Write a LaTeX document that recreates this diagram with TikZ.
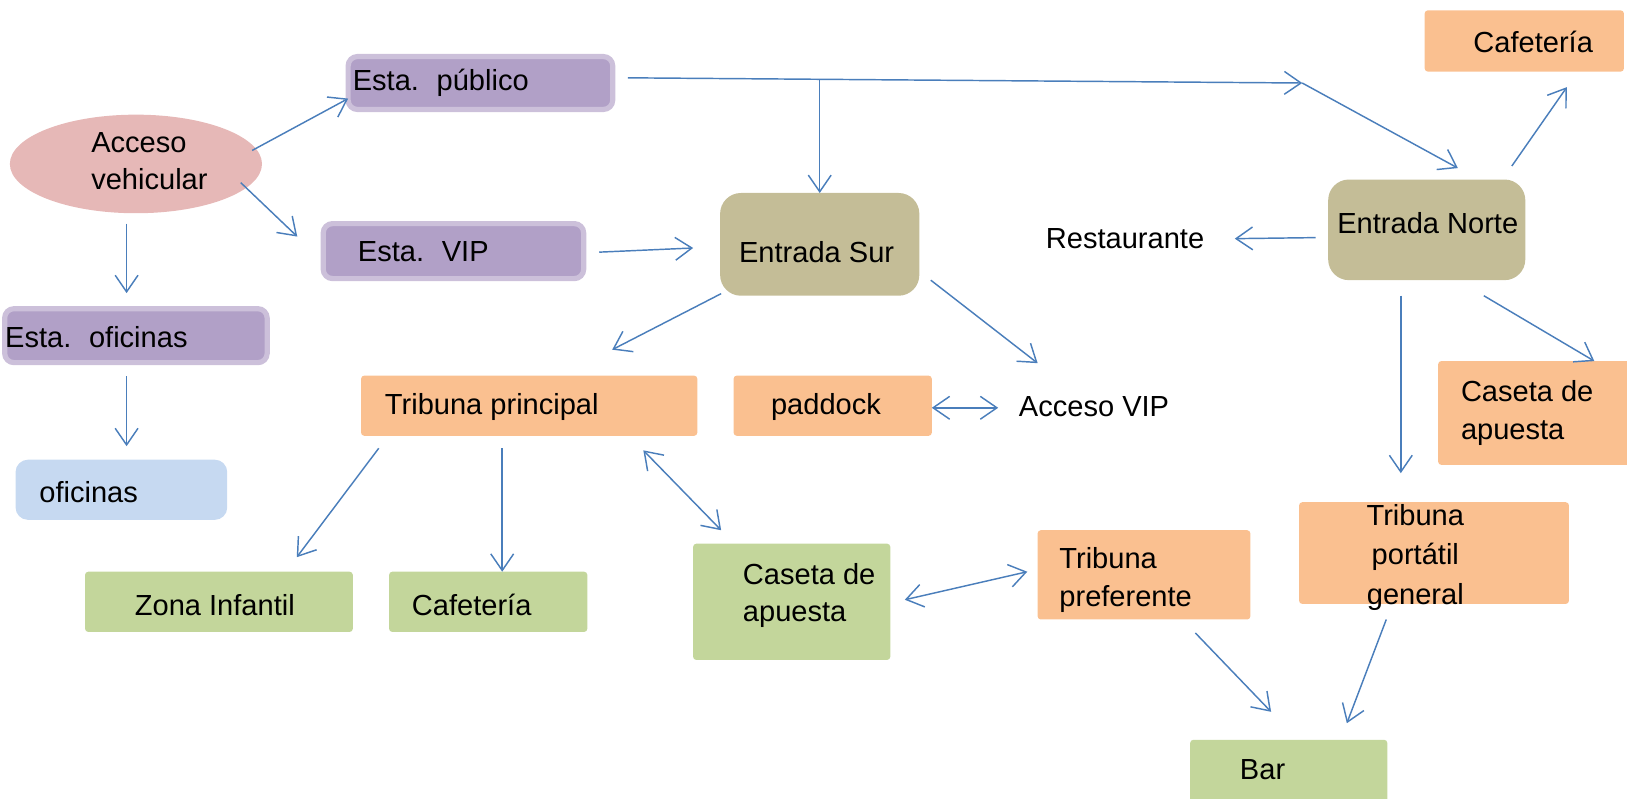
\documentclass[tikz,border=0pt]{standalone}
\usepackage{fontspec}
\setmainfont{Liberation Sans}
\usetikzlibrary{arrows.meta,calc,shapes.geometric}
\definecolor{purp}{HTML}{B1A0C7}
\definecolor{purpb}{HTML}{CCC0DA}
\definecolor{pinkc}{HTML}{E6B8B7}
\definecolor{tanc}{HTML}{C4BD97}
\definecolor{orc}{HTML}{FAC090}
\definecolor{grc}{HTML}{C3D69B}
\definecolor{blc}{HTML}{C6D9F1}
\definecolor{arc}{HTML}{4A7EBB}
\begin{document}
\begin{tikzpicture}[x=1pt,y=-1pt,
  every node/.style={inner sep=0pt, outer sep=0pt},
  pbox/.style={draw=purpb, line width=5pt, fill=purp, rounded corners=9pt, anchor=north west},
  tbox/.style={fill=tanc, rounded corners=20pt, anchor=north west},
  obox/.style={fill=orc, rounded corners=3pt, anchor=north west},
  gbox/.style={fill=grc, rounded corners=3pt, anchor=north west},
  bbox/.style={fill=blc, rounded corners=12pt, anchor=north west},
  txt/.style={font=\fontsize{28}{36}\selectfont, text=black, anchor=west, align=left},
  ctxt/.style={font=\fontsize{28}{38}\selectfont, text=black, anchor=center, align=center},
  arr/.style={draw=arc, line width=1.4pt, -{Straight Barb[length=16pt,width=22pt,line width=1.4pt]}},
  darr/.style={draw=arc, line width=1.4pt, {Straight Barb[length=16pt,width=22pt,line width=1.4pt]}-{Straight Barb[length=16pt,width=22pt,line width=1.4pt]}}
]
\useasboundingbox (0,0) rectangle (1568,770);

% boxes
\node[ellipse, fill=pinkc, minimum width=243pt, minimum height=95pt] (acc) at (131,158) {};
\node[pbox, minimum width=255pt, minimum height=51pt] (pub) at (335.5,54.5) {};
\node[pbox, minimum width=251pt, minimum height=53pt] (vip) at (311.5,215.5) {};
\node[pbox, minimum width=253pt, minimum height=52pt] (ofi) at (4.5,297.5) {};
\node[bbox, minimum width=204pt, minimum height=58pt] (ofc) at (15,443) {};
\node[tbox, minimum width=192pt, minimum height=99pt] (sur) at (694,186) {};
\node[tbox, minimum width=190pt, minimum height=97pt] (nor) at (1280,173) {};
\node[obox, minimum width=192pt, minimum height=59pt] (caf1) at (1373,10) {};
\node[obox, minimum width=185pt, minimum height=100pt] (cas1) at (1386,348) {};
\node[obox, minimum width=324pt, minimum height=58pt] (tpr) at (348,362) {};
\node[obox, minimum width=191pt, minimum height=58pt] (pad) at (707,362) {};
\node[gbox, minimum width=258pt, minimum height=58pt] (zon) at (82,551) {};
\node[gbox, minimum width=191pt, minimum height=58pt] (caf2) at (375,551) {};
\node[gbox, minimum width=190pt, minimum height=112pt] (cas2) at (668,524) {};
\node[obox, minimum width=205pt, minimum height=86pt] (tpf) at (1000,511) {};
\node[obox, minimum width=260pt, minimum height=98pt] (tpg) at (1252,484) {};
\node[gbox, minimum width=190pt, minimum height=75pt] (bar) at (1147,713) {};

% texts
\node[txt] (t-acc) at (88,155) {Acceso\\vehicular};
\node[txt] (t-pub) at (340,80) {Esta.\hspace{17pt}público};
\node[txt] (t-vip) at (345,243) {Esta.\hspace{17pt}VIP};
\node[txt] (t-ofi) at (5,325) {Esta.\hspace{17pt}oficinas};
\node[txt] (t-ofc) at (38,474) {oficinas};
\node[ctxt] (t-sur) at (787,243) {Entrada Sur};
\node[ctxt] (t-nor) at (1376,215) {Entrada Norte};
\node[txt] (rest) at (1008,230) {Restaurante};
\node[txt] (t-caf1) at (1420,40) {Cafetería};
\node[txt] (t-cas1) at (1408,398) {Caseta de\\apuesta};
\node[txt] (t-tpr) at (371,392) {Tribuna principal};
\node[ctxt] (t-pad) at (796,392) {paddock};
\node[txt] (avip) at (982,392) {Acceso VIP};
\node[txt] (t-zon) at (130,583) {Zona Infantil};
\node[txt] (t-caf2) at (397,583) {Cafetería};
\node[txt] (t-cas2) at (716,574) {Caseta de\\apuesta};
\node[txt] (t-tpf) at (1021,559) {Tribuna\\preferente};
\node[ctxt] (t-tpg) at (1364,537) {Tribuna\\portátil\\general};
\node[txt] (t-bar) at (1195,742) {Bar};

% connectors
\coordinate (m1) at (1255,80);
\coordinate (br) at (790,77);
\draw[arr] ([shift={(112,-13)}]acc.center) -- ([shift={(0,15)}]pub.west);
\draw[arr] ([shift={(101,18)}]acc.center) -- ([shift={(-25,-14)}]vip.west);
\draw[arr] ([shift={(-9,10)}]acc.south) -- ([shift={(-9,-15)}]ofi.north);
\draw[arr] ([shift={(-9,13)}]ofi.south) -- ([shift={(5,-13)}]ofc.north);
\draw[arr] ([shift={(14.5,-5)}]pub.east) -- (m1);
\draw[arr] (m1) -- ([shift={(30,-11)}]nor.north);
\draw[arr] (br) -- (sur.north);
\draw[arr] ([shift={(15,1)}]vip.east) -- ([shift={(-26,3.5)}]sur.west);
\draw[arr] ([shift={(1,-2)}]sur.south west) -- ([shift={(-82,-25)}]tpr.north east);
\draw[arr] ([shift={(11,34.5)}]sur.east) -- ([shift={(18,-42)}]avip.west);
\draw[darr] ([shift={(0,2)}]pad.east) -- ([shift={(-20,1)}]avip.west);
\draw[arr] ([shift={(-12,7.5)}]nor.west) -- ([shift={(182,0)}]rest.west);
\draw[arr] ([shift={(-13,-13)}]nor.north east) -- ([shift={(41,15)}]caf1.south);
\draw[arr] ([shift={(55,15)}]nor.south) -- ([shift={(58,0)}]cas1.north);
\draw[arr] ([shift={(-25,15)}]nor.south) -- ([shift={(-32,-28)}]tpg.north);
\draw[arr] ([shift={(17,12)}]tpr.south west) -- ([shift={(-54,-14)}]zon.north east);
\draw[arr] ([shift={(-26,12)}]tpr.south) -- ([shift={(13.5,0)}]caf2.north);
\draw[darr] ([shift={(-52,14)}]tpr.south east) -- ([shift={(27,-13)}]cas2.north west);
\draw[darr] ([shift={(14,-2)}]cas2.east) -- ([shift={(-10,-3)}]tpf.west);
\draw[arr] ([shift={(49.5,13)}]tpf.south) -- ([shift={(-17,-27)}]bar.north);
\draw[arr] ([shift={(-46,15)}]tpg.south) -- ([shift={(56,-16)}]bar.north);
\end{tikzpicture}
\end{document}
